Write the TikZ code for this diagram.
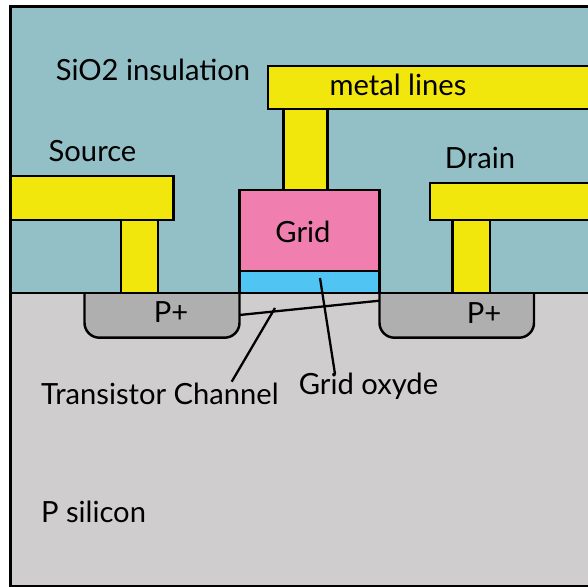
\documentclass[tikz,border=0pt]{standalone}
\usepackage{fontspec}
\setmainfont{Lato}
\usetikzlibrary{calc,positioning}
\definecolor{oxidecol}{HTML}{92C0C6}
\definecolor{siliconcol}{HTML}{CFCDCE}
\definecolor{dopedcol}{HTML}{AFAFAF}
\definecolor{metalcol}{HTML}{F2E70C}
\definecolor{gridcol}{HTML}{F07FB0}
\definecolor{thincol}{HTML}{50C4F2}
\tikzset{layer/.style={draw=black,line width=1.4pt},
  metal/.style={layer,fill=metalcol},
  doped/.style={layer,fill=dopedcol,rounded corners=8.5pt},
  lab/.style={inner sep=0pt,font=\fontsize{16.6}{20}\selectfont},
  pointer/.style={draw=black,line width=1.3pt}}

\begin{document}
\begin{tikzpicture}[x=0.02cm,y=-0.02cm]
\useasboundingbox (0,0) rectangle (588,587);
% substrate and insulation
\fill[siliconcol] (10.5,293) rectangle (588,587);
\fill[oxidecol] (10.5,6.5) rectangle (588,293);
\draw[layer] (588,6.5)--(10.5,6.5)--(10.5,586.5)--(588,586.5);
% doped wells
\draw[doped] (84.5,293)--(84.5,337.7)--(239.5,337.7)--(239.5,293);
\draw[doped] (379.5,293)--(379.5,337.7)--(534,337.7)--(534,293);
\draw[layer] (10.5,293)--(588,293);
% metal
\draw[metal] (121,293) rectangle (158,220);
\draw[metal] (10.5,176) rectangle (173.5,220);
\draw[metal] (452.5,293) rectangle (490,220);
\draw[metal] (430,183) rectangle (590,220);
\draw[metal] (283.5,190) rectangle (327.5,109);
\draw[metal] (268,66) rectangle (590,109);
% gate stack
\draw[layer,fill=gridcol] (239.5,190) rectangle (379.5,271);
\draw[layer,fill=thincol] (239.5,271) rectangle (379.5,293);
% labels
\node[lab] (sio) at (153,70) {SiO2 insulation};
\node[lab] (lines) at (398,85) {metal lines};
\node[lab] (source) at (92.5,151) {Source};
\node[lab] (drain) at (480,158) {Drain};
\node[lab] (grid) at (303,232) {Grid};
\node[lab] (pleft) at (171,312) {P+};
\node[lab] (pright) at (484,313) {P+};
\node[lab] (channel) at (160,394) {Transistor Channel};
\node[lab] (oxyde) at (368.5,386) {Grid oxyde};
\node[lab] (silicon) at (93.5,512) {P silicon};
% channel and pointers
\coordinate (chl) at (239.5,315);
\coordinate (chr) at (379.5,300.7);
\coordinate (chtip) at (275,308);
\coordinate (chfoot) at (231.7,381.7);
\coordinate (oxtip) at (320,278);
\coordinate (oxfoot) at (335,374);
\draw[pointer] (chl)--(chr);
\draw[pointer] (chfoot)--(chtip);
\draw[pointer] (oxfoot)--(oxtip);
\end{tikzpicture}
\end{document}
